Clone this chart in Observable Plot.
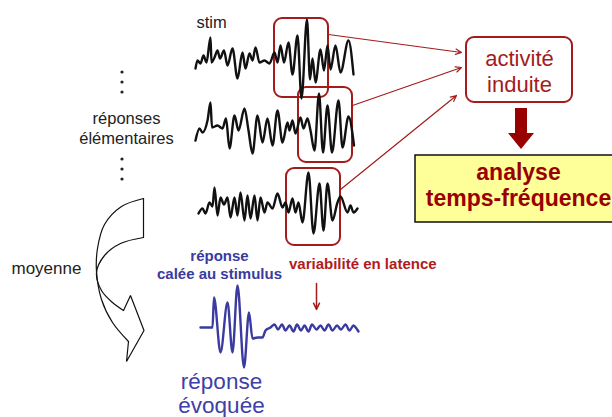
<!DOCTYPE html>
<html><head><meta charset="utf-8">
<script src="https://cdn.jsdelivr.net/npm/d3@7"></script>
<script src="https://cdn.jsdelivr.net/npm/@observablehq/plot@0.6"></script>
<style>body{margin:0;background:#fff;} svg{display:block;}</style>
</head><body><div id="chart"></div>
<script>
// ---- waveform samples: time offset and amplitude (up = positive) ----
const stimT = [0,2,5,8,11,15,16,19,22,24.5,28.5,32,37,42,47,50,54,57,60,64,69,74,79,82,85,88.5,93,97,102,106,111.5,114.5,117,120,125,128.5,132,135,140,145,153,158];
const stimV = [-8,0,-3,5,-2,23,-2,3,10,2,10,-5,12,-18,8,-8,7,0,13,-2,0,-3,8,-2,15,-2,18,-14,25,-38,41,-19,2,-22,11,-10,15,-9,15,-12,20,-14];
const resp1T = [0,4,7,12,15,16.5,22,27,30.5,34,39,43,49,53,57,62,67,72,77,82,87,92,94,97,100,105,108,112,115,119,123.5,127.5,132,136.5,143,147,153,158.5];
const resp1V = [-12,0,-4,8,26,1,3,0,10,-20,13,-2,20,-2,-25,13,-14,10,-17,18,-14,6,-2,8,-5,11,0,10,-2,-22,35,-24,23,-24,28,-19,12,-17];
const resp2T = [0,4,7,11,14,16,19,22,25.5,29,32,36,39,42,46,49,52,56,59,62,66,69,74,79,84,87,90,94,97,100,104,110,115,121,125,129,134,139,142,149,152,155,159];
const resp2V = [-8,-3,-8,3,-1,18,-10,8,1,8,-12,8,-10,13,-15,10,-13,10,-15,8,-7,3,-3,12,-2,3,-7,7,-7,3,-17,33,-28,22,-25,22,-15,3,9,-7,0,-7,-3];
const evokedT = [0,12,13.5,20,27,32,37,43.5,48.5,52,57,62,65,70,74,77.5,81.5,85,89,93,96.5,100.5,104,108,111.5,116,120,124,128,132,136.5,140.5,145,149,153,156,158];
const evokedV = [0,0,30,-25,25,-25,42,-40,15,-11,-10,-10,-3,0,3,-2,3,-3,2,-4,3,-3,2,-4,3,-2,2,-3,3,-3,2,-2,3,-3,2,-1,-4];

// ---- labels ----
const stimLabel = "stim";
const trialLabels = ["réponses", "élémentaires"];
const meanLabel = "moyenne";
const lockedLabels = ["réponse", "calée au stimulus"];
const latencyLabel = "variabilité en latence";
const evokedLabels = ["réponse", "évoquée"];
const inducedLabels = ["activité", "induite"];
const tfLabels = ["analyse", "temps-fréquence"];

// ---- layout (diagram coordinates) ----
const traceLayout = [
  {name: "stim", T: stimT, V: stimV, x0: 195, y0: 60},
  {name: "r1", T: resp1T, V: resp1V, x0: 195, y0: 128},
  {name: "r2", T: resp2T, V: resp2V, x0: 198, y0: 205}
];
const evokedLayout = {x0: 200, y0: 327};
const windowBoxes = [
  {x1: 274, x2: 328, y1: 18, y2: 97},
  {x1: 298, x2: 352, y1: 87, y2: 162},
  {x1: 286, x2: 340, y1: 168, y2: 245}
];
const inducedBox = [{x1: 466, x2: 572, y1: 37, y2: 102}];
const tfBox = [{x1: 415, x2: 616, y1: 155, y2: 222}];
const links = [
  {x1: 328, y1: 34, x2: 461, y2: 52},
  {x1: 352, y1: 105, x2: 461, y2: 67},
  {x1: 340, y1: 189, x2: 456, y2: 95}
];
const dots = [
  {x: 121.5, y: 71.5}, {x: 121.5, y: 81.5}, {x: 121.5, y: 91.5},
  {x: 121.5, y: 158.5}, {x: 121.5, y: 168.5}, {x: 121.5, y: 178.5}
];
const outerArc = [[143,198],[121,206],[104,224],[97,248],[96,271],[101,299],[112,322],[128,341]];
const innerArc = [[143,237],[120,243],[104,255],[96,272],[101,290],[112,302],[123,310]];
const arrowHead = [[123,310],[130,295],[143.5,330],[126,361],[128,341]];
const arrowBack = [[143,198],[143,237]];

const DARKRED = "#a31c1c";
const BLUE = "#3a3aa0";
const FONT = "Liberation Sans, Arial, Helvetica, sans-serif";

const tracePts = traceLayout.flatMap(t => t.T.map((d, i) => ({trace: t.name, x: t.x0 + d, y: t.y0 - t.V[i]})));
const evokedPts = evokedT.map((d, i) => ({x: evokedLayout.x0 + d, y: evokedLayout.y0 - evokedV[i]}));
const pts = a => a.map(([x, y]) => ({x, y}));

const text = (data, o) => Plot.text(data, {fontFamily: FONT, lineAnchor: "bottom", ...o});

const chart = Plot.plot({
  width: 612, height: 417, margin: 0,
  x: {domain: [0, 612], range: [0, 612], axis: null},
  y: {domain: [0, 417], range: [0, 417], axis: null},
  style: {background: "#fff", fontFamily: FONT},
  marks: [
    // window boxes
    Plot.rect(windowBoxes, {x1: "x1", x2: "x2", y1: "y1", y2: "y2", rx: 8, fill: "none", stroke: DARKRED, strokeWidth: 2}),
    // traces
    Plot.line(tracePts, {x: "x", y: "y", z: "trace", curve: "monotone-x", stroke: "#111", strokeWidth: 2.4, strokeLinejoin: "round"}),
    Plot.line(evokedPts, {x: "x", y: "y", curve: "monotone-x", stroke: BLUE, strokeWidth: 2.4, strokeLinejoin: "round"}),
    // links to induced box
    Plot.arrow(links, {x1: "x1", y1: "y1", x2: "x2", y2: "y2", stroke: DARKRED, strokeWidth: 1.2, headLength: 8, headAngle: 50}),
    Plot.rect(inducedBox, {x1: "x1", x2: "x2", y1: "y1", y2: "y2", rx: 8, fill: "#fff", stroke: DARKRED, strokeWidth: 2}),
    // big down arrow
    Plot.rect([{x1: 515, x2: 527, y1: 108, y2: 134}], {x1: "x1", x2: "x2", y1: "y1", y2: "y2", fill: "#990000"}),
    Plot.areaY([{x: 508, y1: 133, y2: 133}, {x: 521, y1: 133, y2: 149}, {x: 534, y1: 133, y2: 133}], {x: "x", y1: "y1", y2: "y2", fill: "#990000"}),
    // time-frequency box
    Plot.rect(tfBox, {x1: "x1", x2: "x2", y1: "y1", y2: "y2", fill: "#ffff99", stroke: "#111", strokeWidth: 1.5}),
    // dots
    Plot.dot(dots, {x: "x", y: "y", r: 1.6, fill: "#222", stroke: "none"}),
    // curved arrow
    Plot.line(pts(outerArc), {x: "x", y: "y", curve: "catmull-rom", stroke: "#111", strokeWidth: 1.2}),
    Plot.line(pts(innerArc), {x: "x", y: "y", curve: "catmull-rom", stroke: "#111", strokeWidth: 1.2}),
    Plot.line(pts(arrowHead), {x: "x", y: "y", stroke: "#111", strokeWidth: 1.2, strokeLinejoin: "miter"}),
    Plot.line(pts(arrowBack), {x: "x", y: "y", stroke: "#111", strokeWidth: 1.2}),
    // small latency arrow
    Plot.arrow([{x1: 316, y1: 283, x2: 316, y2: 309}], {x1: "x1", y1: "y1", x2: "x2", y2: "y2", stroke: DARKRED, strokeWidth: 1.5, headLength: 7, headAngle: 50}),
    // labels
    text([{t: stimLabel, x: 196, y: 27}], {x: "x", y: "y", text: "t", fontSize: 16.5, fill: "#222", textAnchor: "start"}),
    text(trialLabels.map((t, i) => ({t, x: 126, y: 123 + i * 20})), {x: "x", y: "y", text: "t", fontSize: 16.5, fill: "#222"}),
    text([{t: meanLabel, x: 11, y: 273}], {x: "x", y: "y", text: "t", fontSize: 17, fill: "#222", textAnchor: "start"}),
    text(lockedLabels.map((t, i) => ({t, x: 219, y: 260 + i * 18})), {x: "x", y: "y", text: "t", fontSize: 15, fontWeight: "bold", fill: BLUE}),
    text([{t: latencyLabel, x: 288.5, y: 268}], {x: "x", y: "y", text: "t", fontSize: 15, fontWeight: "bold", fill: "#b01c1c", textAnchor: "start"}),
    text(evokedLabels.map((t, i) => ({t, x: 221, y: 388 + i * 24.5})), {x: "x", y: "y", text: "t", fontSize: 22.5, fill: "#4040a8"}),
    text(inducedLabels.map((t, i) => ({t, x: 519, y: 65 + i * 26.5})), {x: "x", y: "y", text: "t", fontSize: 22, fill: DARKRED}),
    text(tfLabels.map((t, i) => ({t, x: 518, y: 179 + i * 26})), {x: "x", y: "y", text: "t", fontSize: 23, fontWeight: "bold", fill: "#990000"})
  ]
});
document.getElementById("chart").append(chart);
</script>
</body></html>
